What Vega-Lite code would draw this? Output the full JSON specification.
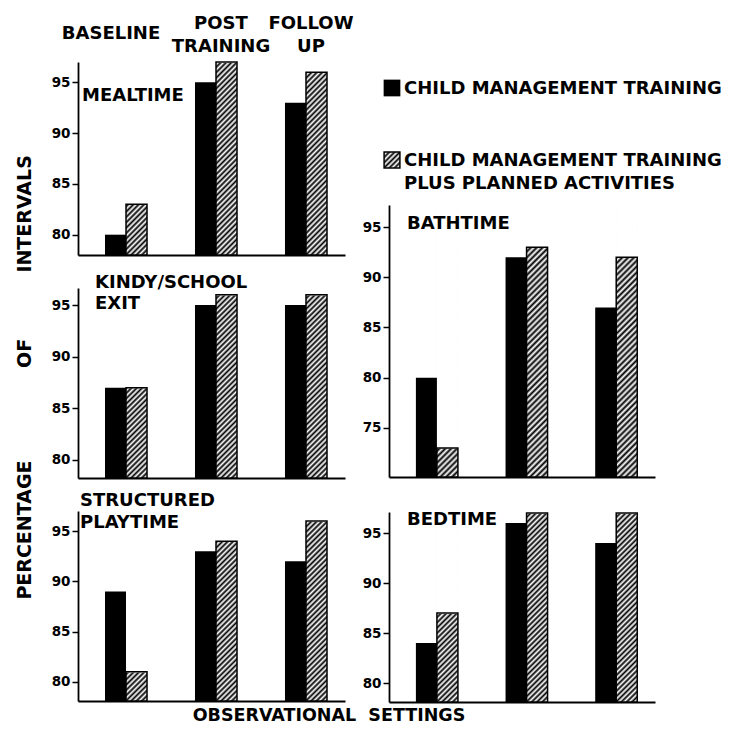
{
  "$schema": "https://vega.github.io/schema/vega-lite/v6.json",
  "background": "white",
  "padding": {"left": 16, "top": 14, "right": 2, "bottom": 2},
  "params": [
    {"name": "hatchL", "value": {"gradient": "linear", "x1": 0, "y1": 0, "x2": 0.1205, "y2": 1.0967, "stops": [
      {"offset": 0, "color": "#000"}, {"offset": 0.0125, "color": "#fff"}, {"offset": 0.025, "color": "#000"}, {"offset": 0.0375, "color": "#fff"},
      {"offset": 0.05, "color": "#000"}, {"offset": 0.0625, "color": "#fff"}, {"offset": 0.075, "color": "#000"}, {"offset": 0.0875, "color": "#fff"},
      {"offset": 0.1, "color": "#000"}, {"offset": 0.1125, "color": "#fff"}, {"offset": 0.125, "color": "#000"}, {"offset": 0.1375, "color": "#fff"},
      {"offset": 0.15, "color": "#000"}, {"offset": 0.1625, "color": "#fff"}, {"offset": 0.175, "color": "#000"}, {"offset": 0.1875, "color": "#fff"},
      {"offset": 0.2, "color": "#000"}, {"offset": 0.2125, "color": "#fff"}, {"offset": 0.225, "color": "#000"}, {"offset": 0.2375, "color": "#fff"},
      {"offset": 0.25, "color": "#000"}, {"offset": 0.2625, "color": "#fff"}, {"offset": 0.275, "color": "#000"}, {"offset": 0.2875, "color": "#fff"},
      {"offset": 0.3, "color": "#000"}, {"offset": 0.3125, "color": "#fff"}, {"offset": 0.325, "color": "#000"}, {"offset": 0.3375, "color": "#fff"},
      {"offset": 0.35, "color": "#000"}, {"offset": 0.3625, "color": "#fff"}, {"offset": 0.375, "color": "#000"}, {"offset": 0.3875, "color": "#fff"},
      {"offset": 0.4, "color": "#000"}, {"offset": 0.4125, "color": "#fff"}, {"offset": 0.425, "color": "#000"}, {"offset": 0.4375, "color": "#fff"},
      {"offset": 0.45, "color": "#000"}, {"offset": 0.4625, "color": "#fff"}, {"offset": 0.475, "color": "#000"}, {"offset": 0.4875, "color": "#fff"},
      {"offset": 0.5, "color": "#000"}, {"offset": 0.5125, "color": "#fff"}, {"offset": 0.525, "color": "#000"}, {"offset": 0.5375, "color": "#fff"},
      {"offset": 0.55, "color": "#000"}, {"offset": 0.5625, "color": "#fff"}, {"offset": 0.575, "color": "#000"}, {"offset": 0.5875, "color": "#fff"},
      {"offset": 0.6, "color": "#000"}, {"offset": 0.6125, "color": "#fff"}, {"offset": 0.625, "color": "#000"}, {"offset": 0.6375, "color": "#fff"},
      {"offset": 0.65, "color": "#000"}, {"offset": 0.6625, "color": "#fff"}, {"offset": 0.675, "color": "#000"}, {"offset": 0.6875, "color": "#fff"},
      {"offset": 0.7, "color": "#000"}, {"offset": 0.7125, "color": "#fff"}, {"offset": 0.725, "color": "#000"}, {"offset": 0.7375, "color": "#fff"},
      {"offset": 0.75, "color": "#000"}, {"offset": 0.7625, "color": "#fff"}, {"offset": 0.775, "color": "#000"}, {"offset": 0.7875, "color": "#fff"},
      {"offset": 0.8, "color": "#000"}, {"offset": 0.8125, "color": "#fff"}, {"offset": 0.825, "color": "#000"}, {"offset": 0.8375, "color": "#fff"},
      {"offset": 0.85, "color": "#000"}, {"offset": 0.8625, "color": "#fff"}, {"offset": 0.875, "color": "#000"}, {"offset": 0.8875, "color": "#fff"},
      {"offset": 0.9, "color": "#000"}, {"offset": 0.9125, "color": "#fff"}, {"offset": 0.925, "color": "#000"}, {"offset": 0.9375, "color": "#fff"},
      {"offset": 0.95, "color": "#000"}, {"offset": 0.9625, "color": "#fff"}, {"offset": 0.975, "color": "#000"}, {"offset": 0.9875, "color": "#fff"},
      {"offset": 1, "color": "#000"}
    ]}},
    {"name": "hatchB", "value": {"gradient": "linear", "x1": 0, "y1": 0, "x2": 0.0827, "y2": 1.0708, "stops": [
      {"offset": 0, "color": "#000"}, {"offset": 0.01, "color": "#fff"}, {"offset": 0.02, "color": "#000"}, {"offset": 0.03, "color": "#fff"},
      {"offset": 0.04, "color": "#000"}, {"offset": 0.05, "color": "#fff"}, {"offset": 0.06, "color": "#000"}, {"offset": 0.07, "color": "#fff"},
      {"offset": 0.08, "color": "#000"}, {"offset": 0.09, "color": "#fff"}, {"offset": 0.1, "color": "#000"}, {"offset": 0.11, "color": "#fff"},
      {"offset": 0.12, "color": "#000"}, {"offset": 0.13, "color": "#fff"}, {"offset": 0.14, "color": "#000"}, {"offset": 0.15, "color": "#fff"},
      {"offset": 0.16, "color": "#000"}, {"offset": 0.17, "color": "#fff"}, {"offset": 0.18, "color": "#000"}, {"offset": 0.19, "color": "#fff"},
      {"offset": 0.2, "color": "#000"}, {"offset": 0.21, "color": "#fff"}, {"offset": 0.22, "color": "#000"}, {"offset": 0.23, "color": "#fff"},
      {"offset": 0.24, "color": "#000"}, {"offset": 0.25, "color": "#fff"}, {"offset": 0.26, "color": "#000"}, {"offset": 0.27, "color": "#fff"},
      {"offset": 0.28, "color": "#000"}, {"offset": 0.29, "color": "#fff"}, {"offset": 0.3, "color": "#000"}, {"offset": 0.31, "color": "#fff"},
      {"offset": 0.32, "color": "#000"}, {"offset": 0.33, "color": "#fff"}, {"offset": 0.34, "color": "#000"}, {"offset": 0.35, "color": "#fff"},
      {"offset": 0.36, "color": "#000"}, {"offset": 0.37, "color": "#fff"}, {"offset": 0.38, "color": "#000"}, {"offset": 0.39, "color": "#fff"},
      {"offset": 0.4, "color": "#000"}, {"offset": 0.41, "color": "#fff"}, {"offset": 0.42, "color": "#000"}, {"offset": 0.43, "color": "#fff"},
      {"offset": 0.44, "color": "#000"}, {"offset": 0.45, "color": "#fff"}, {"offset": 0.46, "color": "#000"}, {"offset": 0.47, "color": "#fff"},
      {"offset": 0.48, "color": "#000"}, {"offset": 0.49, "color": "#fff"}, {"offset": 0.5, "color": "#000"}, {"offset": 0.51, "color": "#fff"},
      {"offset": 0.52, "color": "#000"}, {"offset": 0.53, "color": "#fff"}, {"offset": 0.54, "color": "#000"}, {"offset": 0.55, "color": "#fff"},
      {"offset": 0.56, "color": "#000"}, {"offset": 0.57, "color": "#fff"}, {"offset": 0.58, "color": "#000"}, {"offset": 0.59, "color": "#fff"},
      {"offset": 0.6, "color": "#000"}, {"offset": 0.61, "color": "#fff"}, {"offset": 0.62, "color": "#000"}, {"offset": 0.63, "color": "#fff"},
      {"offset": 0.64, "color": "#000"}, {"offset": 0.65, "color": "#fff"}, {"offset": 0.66, "color": "#000"}, {"offset": 0.67, "color": "#fff"},
      {"offset": 0.68, "color": "#000"}, {"offset": 0.69, "color": "#fff"}, {"offset": 0.7, "color": "#000"}, {"offset": 0.71, "color": "#fff"},
      {"offset": 0.72, "color": "#000"}, {"offset": 0.73, "color": "#fff"}, {"offset": 0.74, "color": "#000"}, {"offset": 0.75, "color": "#fff"},
      {"offset": 0.76, "color": "#000"}, {"offset": 0.77, "color": "#fff"}, {"offset": 0.78, "color": "#000"}, {"offset": 0.79, "color": "#fff"},
      {"offset": 0.8, "color": "#000"}, {"offset": 0.81, "color": "#fff"}, {"offset": 0.82, "color": "#000"}, {"offset": 0.83, "color": "#fff"},
      {"offset": 0.84, "color": "#000"}, {"offset": 0.85, "color": "#fff"}, {"offset": 0.86, "color": "#000"}, {"offset": 0.87, "color": "#fff"},
      {"offset": 0.88, "color": "#000"}, {"offset": 0.89, "color": "#fff"}, {"offset": 0.9, "color": "#000"}, {"offset": 0.91, "color": "#fff"},
      {"offset": 0.92, "color": "#000"}, {"offset": 0.93, "color": "#fff"}, {"offset": 0.94, "color": "#000"}, {"offset": 0.95, "color": "#fff"},
      {"offset": 0.96, "color": "#000"}, {"offset": 0.97, "color": "#fff"}, {"offset": 0.98, "color": "#000"}, {"offset": 0.99, "color": "#fff"},
      {"offset": 1, "color": "#000"}
    ]}}
  ],
  "datasets": {
    "bars": [
      {"panel": "Meal", "setting": "BASELINE", "group": "CMT", "value": 80},
      {"panel": "Meal", "setting": "BASELINE", "group": "CMTPA", "value": 83},
      {"panel": "Meal", "setting": "POST TRAINING", "group": "CMT", "value": 95},
      {"panel": "Meal", "setting": "POST TRAINING", "group": "CMTPA", "value": 97},
      {"panel": "Meal", "setting": "FOLLOW UP", "group": "CMT", "value": 93},
      {"panel": "Meal", "setting": "FOLLOW UP", "group": "CMTPA", "value": 96},
      {"panel": "Kindy", "setting": "BASELINE", "group": "CMT", "value": 87},
      {"panel": "Kindy", "setting": "BASELINE", "group": "CMTPA", "value": 87},
      {"panel": "Kindy", "setting": "POST TRAINING", "group": "CMT", "value": 95},
      {"panel": "Kindy", "setting": "POST TRAINING", "group": "CMTPA", "value": 96},
      {"panel": "Kindy", "setting": "FOLLOW UP", "group": "CMT", "value": 95},
      {"panel": "Kindy", "setting": "FOLLOW UP", "group": "CMTPA", "value": 96},
      {"panel": "Play", "setting": "BASELINE", "group": "CMT", "value": 89},
      {"panel": "Play", "setting": "BASELINE", "group": "CMTPA", "value": 81},
      {"panel": "Play", "setting": "POST TRAINING", "group": "CMT", "value": 93},
      {"panel": "Play", "setting": "POST TRAINING", "group": "CMTPA", "value": 94},
      {"panel": "Play", "setting": "FOLLOW UP", "group": "CMT", "value": 92},
      {"panel": "Play", "setting": "FOLLOW UP", "group": "CMTPA", "value": 96},
      {"panel": "Bath", "setting": "BASELINE", "group": "CMT", "value": 80},
      {"panel": "Bath", "setting": "BASELINE", "group": "CMTPA", "value": 73},
      {"panel": "Bath", "setting": "POST TRAINING", "group": "CMT", "value": 92},
      {"panel": "Bath", "setting": "POST TRAINING", "group": "CMTPA", "value": 93},
      {"panel": "Bath", "setting": "FOLLOW UP", "group": "CMT", "value": 87},
      {"panel": "Bath", "setting": "FOLLOW UP", "group": "CMTPA", "value": 92},
      {"panel": "Bed", "setting": "BASELINE", "group": "CMT", "value": 84},
      {"panel": "Bed", "setting": "BASELINE", "group": "CMTPA", "value": 87},
      {"panel": "Bed", "setting": "POST TRAINING", "group": "CMT", "value": 96},
      {"panel": "Bed", "setting": "POST TRAINING", "group": "CMTPA", "value": 97},
      {"panel": "Bed", "setting": "FOLLOW UP", "group": "CMT", "value": 94},
      {"panel": "Bed", "setting": "FOLLOW UP", "group": "CMTPA", "value": 97}
    ],
    "legend": [
      {"group": "CMT", "label": "CHILD MANAGEMENT TRAINING"},
      {"group": "CMTPA", "label": "CHILD MANAGEMENT TRAINING\n\u00a0PLUS PLANNED ACTIVITIES"}
    ]
  },
  "title": {"text": "OBSERVATIONAL\u00a0\u00a0SETTINGS", "orient": "bottom", "anchor": "middle", "fontSize": 17.5, "offset": 4, "dx": -40},
  "spacing": 8,
  "hconcat": [
    {
      "bounds": "flush",
      "spacing": 33,
      "title": {"text": "PERCENTAGE\u00a0\u00a0\u00a0\u00a0\u00a0\u00a0\u00a0\u00a0\u00a0\u00a0\u00a0\u00a0\u00a0\u00a0OF\u00a0\u00a0\u00a0\u00a0\u00a0\u00a0\u00a0\u00a0\u00a0\u00a0INTERVALS", "orient": "left", "anchor": "middle", "fontSize": 19, "offset": 16, "dx": -19.5},
      "vconcat": [
        {
          "width": 267, "height": 193,
          "title": {"text": "MEALTIME", "frame": "group", "anchor": "start", "baseline": "bottom", "dx": 4, "offset": -109, "zindex": 1},
          "data": {"name": "bars"},
          "transform": [{"filter": "datum.panel == 'Meal'"}],
          "encoding": {
            "x": {"field": "setting", "type": "nominal", "sort": null, "scale": {"domain": ["BASELINE", "POST TRAINING", "FOLLOW UP"], "paddingInner": 0.533, "paddingOuter": 0.25, "align": 0.6}, "axis": null},
            "xOffset": {"field": "group", "type": "nominal", "scale": {"domain": ["CMT", "CMTPA"], "paddingInner": 0, "paddingOuter": 0}},
            "y": {"field": "value", "type": "quantitative", "title": null, "scale": {"domain": [78, 97], "zero": false, "nice": false}, "axis": {"values": [80, 85, 90, 95], "title": null}},
            "y2": {"datum": 78}
          },
          "resolve": {"axis": {"x": "independent"}},
          "layer": [
            {"transform": [{"filter": "datum.group == 'CMTPA'"}], "mark": {"type": "bar", "fill": {"expr": "hatchL"}},
             "encoding": {"y": {"datum": 97, "title": null},
               "x": {"field": "setting", "type": "nominal", "sort": null, "scale": {"domain": ["BASELINE", "POST TRAINING", "FOLLOW UP"], "paddingInner": 0.533, "paddingOuter": 0.25, "align": 0.6}, "axis": {"orient": "top", "domain": false, "ticks": false, "tickSize": 0, "title": null, "labelBaseline": "middle", "labelLineHeight": 23, "labelOverlap": false, "labelFontSize": 18, "labelExpr": "datum.value == 'BASELINE' ? 'BASELINE' : split(datum.value, ' ')", "labelOffset": {"condition": {"test": "datum.value == 'BASELINE'", "value": -15}, "value": 5}, "labelPadding": {"condition": {"test": "datum.value == 'BASELINE'", "value": 29}, "value": 39}}}}},
            {"transform": [{"filter": "datum.group == 'CMTPA'"}], "mark": {"type": "bar", "fill": "#fff", "stroke": "#fff", "strokeWidth": 1.4},
             "encoding": {"y2": {"datum": 97}}},
            {"transform": [{"filter": "datum.group == 'CMTPA'"}], "mark": {"type": "bar", "filled": false, "stroke": "#000", "strokeWidth": 1.5}},
            {"transform": [{"filter": "datum.group == 'CMT'"}], "mark": {"type": "bar", "fill": "#000"},
             "encoding": {"x": {"field": "setting", "type": "nominal", "sort": null, "scale": {"domain": ["BASELINE", "POST TRAINING", "FOLLOW UP"], "paddingInner": 0.533, "paddingOuter": 0.25, "align": 0.6}, "axis": {"orient": "bottom", "labels": false, "ticks": false, "title": null, "domain": true}}}}
          ]
        },
        {
          "width": 267, "height": 190,
          "title": {"text": ["KINDY/SCHOOL", "\u00a0\u00a0\u00a0\u00a0\u00a0EXIT"], "frame": "group", "anchor": "start", "baseline": "bottom", "dx": 17, "offset": -44, "lineHeight": 21, "zindex": 1},
          "data": {"name": "bars"},
          "transform": [{"filter": "datum.panel == 'Kindy'"}],
          "encoding": {
            "x": {"field": "setting", "type": "nominal", "sort": null, "scale": {"domain": ["BASELINE", "POST TRAINING", "FOLLOW UP"], "paddingInner": 0.533, "paddingOuter": 0.25, "align": 0.6}, "axis": {"labels": false, "ticks": false, "title": null, "domain": true}},
            "xOffset": {"field": "group", "type": "nominal", "scale": {"domain": ["CMT", "CMTPA"], "paddingInner": 0, "paddingOuter": 0}},
            "y": {"field": "value", "type": "quantitative", "title": null, "scale": {"domain": [78.25, 96.65], "zero": false, "nice": false}, "axis": {"values": [80, 85, 90, 95], "title": null}},
            "y2": {"datum": 78.25}
          },
          "layer": [
            {"transform": [{"filter": "datum.group == 'CMTPA'"}], "mark": {"type": "bar", "fill": {"expr": "hatchL"}}, "encoding": {"y": {"datum": 96.65, "title": null}}},
            {"transform": [{"filter": "datum.group == 'CMTPA'"}], "mark": {"type": "bar", "fill": "#fff", "stroke": "#fff", "strokeWidth": 1.4}, "encoding": {"y2": {"datum": 96.65}}},
            {"transform": [{"filter": "datum.group == 'CMTPA'"}], "mark": {"type": "bar", "filled": false, "stroke": "#000", "strokeWidth": 1.5}},
            {"transform": [{"filter": "datum.group == 'CMT'"}], "mark": {"type": "bar", "fill": "#000"}}
          ]
        },
        {
          "width": 267, "height": 190,
          "title": {"text": ["STRUCTURED", "\u00a0\u00a0\u00a0PLAYTIME"], "frame": "group", "anchor": "start", "baseline": "bottom", "dx": 2, "offset": -40, "lineHeight": 22, "zindex": 1},
          "data": {"name": "bars"},
          "transform": [{"filter": "datum.panel == 'Play'"}],
          "encoding": {
            "x": {"field": "setting", "type": "nominal", "sort": null, "scale": {"domain": ["BASELINE", "POST TRAINING", "FOLLOW UP"], "paddingInner": 0.533, "paddingOuter": 0.25, "align": 0.6}, "axis": {"labels": false, "ticks": false, "title": null, "domain": true}},
            "xOffset": {"field": "group", "type": "nominal", "scale": {"domain": ["CMT", "CMTPA"], "paddingInner": 0, "paddingOuter": 0}},
            "y": {"field": "value", "type": "quantitative", "title": null, "scale": {"domain": [78.1, 97], "zero": false, "nice": false}, "axis": {"values": [80, 85, 90, 95], "title": null}},
            "y2": {"datum": 78.1}
          },
          "layer": [
            {"transform": [{"filter": "datum.group == 'CMTPA'"}], "mark": {"type": "bar", "fill": {"expr": "hatchL"}}, "encoding": {"y": {"datum": 97, "title": null}}},
            {"transform": [{"filter": "datum.group == 'CMTPA'"}], "mark": {"type": "bar", "fill": "#fff", "stroke": "#fff", "strokeWidth": 1.4}, "encoding": {"y2": {"datum": 97}}},
            {"transform": [{"filter": "datum.group == 'CMTPA'"}], "mark": {"type": "bar", "filled": false, "stroke": "#000", "strokeWidth": 1.5}},
            {"transform": [{"filter": "datum.group == 'CMT'"}], "mark": {"type": "bar", "fill": "#000"}}
          ]
        }
      ]
    },
    {
      "bounds": "flush",
      "spacing": 35,
      "vconcat": [
        {
          "width": 6, "height": 108,
          "data": {"name": "legend"},
          "encoding": {"y": {"field": "group", "type": "nominal", "sort": null, "scale": {"domain": ["CMT", "CMTPA"], "padding": 0.25, "align": 0.722}, "axis": null}},
          "layer": [
            {"transform": [{"filter": "datum.group == 'CMT'"}], "mark": {"type": "square", "size": 280, "fill": "#000", "opacity": 1}},
            {"transform": [{"filter": "datum.group == 'CMTPA'"}], "mark": {"type": "square", "size": 250, "opacity": 1, "stroke": "#000", "strokeWidth": 1.5,
              "fill": {"gradient": "linear", "x1": 0, "y1": 0, "x2": 1, "y2": 1, "stops": [
                {"offset": 0, "color": "#000"}, {"offset": 0.0833, "color": "#fff"}, {"offset": 0.1667, "color": "#000"}, {"offset": 0.25, "color": "#fff"},
                {"offset": 0.3333, "color": "#000"}, {"offset": 0.4167, "color": "#fff"}, {"offset": 0.5, "color": "#000"}, {"offset": 0.5833, "color": "#fff"},
                {"offset": 0.6667, "color": "#000"}, {"offset": 0.75, "color": "#fff"}, {"offset": 0.8333, "color": "#000"}, {"offset": 0.9167, "color": "#fff"},
                {"offset": 1, "color": "#000"}]}}},
            {"mark": {"type": "text", "align": "left", "baseline": "top", "dx": 12, "dy": -8, "lineBreak": "\n", "fontSize": 18, "fontWeight": "bold", "lineHeight": 23, "color": "#000"},
             "encoding": {"text": {"field": "label"}}}
          ]
        },
        {
          "width": 266, "height": 272,
          "title": {"text": "BATHTIME", "frame": "group", "anchor": "start", "baseline": "bottom", "dx": 18, "offset": -47, "zindex": 1},
          "data": {"name": "bars"},
          "transform": [{"filter": "datum.panel == 'Bath'"}],
          "encoding": {
            "x": {"field": "setting", "type": "nominal", "sort": null, "scale": {"domain": ["BASELINE", "POST TRAINING", "FOLLOW UP"], "paddingInner": 0.533, "paddingOuter": 0.25, "align": 0.6}, "axis": {"labels": false, "ticks": false, "title": null, "domain": true}},
            "xOffset": {"field": "group", "type": "nominal", "scale": {"domain": ["CMT", "CMTPA"], "paddingInner": 0, "paddingOuter": 0}},
            "y": {"field": "value", "type": "quantitative", "title": null, "scale": {"domain": [70.1, 97.2], "zero": false, "nice": false}, "axis": {"values": [75, 80, 85, 90, 95], "title": null}},
            "y2": {"datum": 70.1}
          },
          "layer": [
            {"transform": [{"filter": "datum.group == 'CMTPA'"}], "mark": {"type": "bar", "fill": {"expr": "hatchB"}}, "encoding": {"y": {"datum": 97.2, "title": null}}},
            {"transform": [{"filter": "datum.group == 'CMTPA'"}], "mark": {"type": "bar", "fill": "#fff", "stroke": "#fff", "strokeWidth": 1.4}, "encoding": {"y2": {"datum": 97.2}}},
            {"transform": [{"filter": "datum.group == 'CMTPA'"}], "mark": {"type": "bar", "filled": false, "stroke": "#000", "strokeWidth": 1.5}},
            {"transform": [{"filter": "datum.group == 'CMT'"}], "mark": {"type": "bar", "fill": "#000"}}
          ]
        },
        {
          "width": 266, "height": 190,
          "title": {"text": "BEDTIME", "frame": "group", "anchor": "start", "baseline": "bottom", "dx": 18, "offset": -36, "zindex": 1},
          "data": {"name": "bars"},
          "transform": [{"filter": "datum.panel == 'Bed'"}],
          "encoding": {
            "x": {"field": "setting", "type": "nominal", "sort": null, "scale": {"domain": ["BASELINE", "POST TRAINING", "FOLLOW UP"], "paddingInner": 0.533, "paddingOuter": 0.25, "align": 0.6}, "axis": {"labels": false, "ticks": false, "title": null, "domain": true}},
            "xOffset": {"field": "group", "type": "nominal", "scale": {"domain": ["CMT", "CMTPA"], "paddingInner": 0, "paddingOuter": 0}},
            "y": {"field": "value", "type": "quantitative", "title": null, "scale": {"domain": [78.1, 97.1], "zero": false, "nice": false}, "axis": {"values": [80, 85, 90, 95], "title": null}},
            "y2": {"datum": 78.1}
          },
          "layer": [
            {"transform": [{"filter": "datum.group == 'CMTPA'"}], "mark": {"type": "bar", "fill": {"expr": "hatchL"}}, "encoding": {"y": {"datum": 97.1, "title": null}}},
            {"transform": [{"filter": "datum.group == 'CMTPA'"}], "mark": {"type": "bar", "fill": "#fff", "stroke": "#fff", "strokeWidth": 1.4}, "encoding": {"y2": {"datum": 97.1}}},
            {"transform": [{"filter": "datum.group == 'CMTPA'"}], "mark": {"type": "bar", "filled": false, "stroke": "#000", "strokeWidth": 1.5}},
            {"transform": [{"filter": "datum.group == 'CMT'"}], "mark": {"type": "bar", "fill": "#000"}}
          ]
        }
      ]
    }
  ],
  "config": {
    "font": "DejaVu Sans",
    "view": {"stroke": null},
    "axis": {"domainColor": "#000", "domainWidth": 1.8, "tickColor": "#000", "tickWidth": 1.5, "labelColor": "#000", "labelFontWeight": "bold", "labelFont": "DejaVu Sans", "grid": false, "titleColor": "#000"},
    "axisY": {"labelFontSize": 13.5, "tickSize": 6, "labelPadding": 2},
    "axisX": {"labelFontSize": 18, "labelAngle": 0},
    "title": {"font": "DejaVu Sans", "fontWeight": "bold", "color": "#000", "fontSize": 18}
  }
}
